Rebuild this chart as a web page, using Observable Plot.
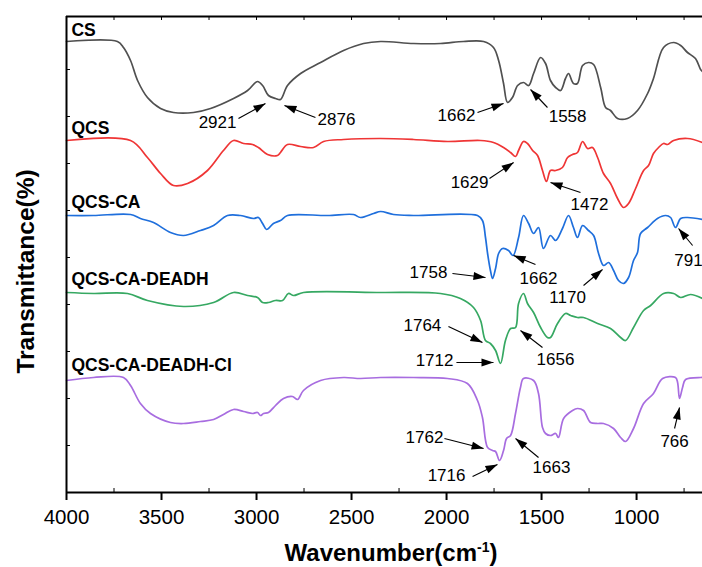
<!DOCTYPE html>
<html><head><meta charset="utf-8">
<script src="https://cdn.jsdelivr.net/npm/d3@7"></script>
<script src="https://cdn.jsdelivr.net/npm/@observablehq/plot@0.6"></script>
<style>
body{margin:0;background:#fff;font-family:"Liberation Sans",Arial,sans-serif;}
#wrap{position:relative;width:702px;height:567px;overflow:hidden;}
#xtitle{position:absolute;left:66px;top:539px;width:650px;text-align:center;font-size:24px;font-weight:bold;color:#000;line-height:normal;white-space:nowrap;}
#xtitle sup{font-size:14px;}
</style></head><body>
<div id="wrap"><div id="chart"></div><div id="xtitle">Wavenumber(cm<sup>-1</sup>)</div></div>
<script>
// ---------- data ----------
const seriesNames = ["CS", "QCS", "QCS-CA", "QCS-CA-DEADH", "QCS-CA-DEADH-Cl"];
const seriesColors = ["#505050", "#ef3535", "#1f6fdc", "#36a862", "#a86de0"];

const wnCS = [4000,3732,3700,3663,3626,3574,3505,3437,3332,3242,3121,3047,2995,2968,2937,2900,2874,2837,2768,2663,2542,2437,2347,2174,2032,1911,1805,1753,1726,1700,1679,1653,1626,1595,1568,1542,1505,1479,1453,1426,1400,1374,1358,1332,1311,1284,1253,1226,1189,1163,1137,1100,1048,995,942,911,858,805,768,732,690,663,653];
const tCS  = [451,451,445,432,412,395,384,380,380,384,394,402,411,407,397,394,393,407,419,430,442,449,451,449,449,451,451,445,432,409,390,395,407,410,407,419,435,429,412,405,402,414,419,409,409,427,430,428,405,385,382,374,374,382,399,414,445,450,447,440,434,423,421];

const wnQCS = [4000,3663,3574,3505,3437,3363,3258,3174,3121,3068,3021,2990,2942,2890,2874,2837,2768,2700,2647,2542,2347,2174,1995,1821,1753,1700,1663,1637,1621,1595,1574,1547,1521,1495,1474,1453,1426,1390,1363,1337,1311,1284,1258,1232,1205,1174,1137,1100,1069,1042,1005,963,937,911,884,858,837,805,732,653];
const tQCS  = [352,352,335,319,307,309,322,342,352,349,348,345,338,337,340,348,346,345,351,353,354,353,351,352,350,345,340,336,342,351,349,342,337,322,311,322,322,325,335,338,340,351,344,345,335,319,309,294,285,289,304,322,327,339,345,349,348,352,354,350];

const wnCA = [4000,3858,3663,3611,3542,3453,3384,3295,3226,3153,3084,3016,2990,2968,2947,2911,2874,2837,2626,2490,2453,2384,2347,2279,2174,1837,1811,1795,1784,1769,1758,1742,1726,1705,1674,1650,1621,1595,1568,1542,1516,1490,1453,1426,1390,1358,1332,1311,1284,1253,1226,1200,1174,1147,1121,1095,1069,1042,1016,995,979,942,890,847,821,795,768,732,653];
const tCA  = [277,277,278,274,270,260,257,262,267,277,277,274,275,269,263,269,272,277,277,278,275,279,281,278,277,277,272,255,239,222,214,224,239,244,242,237,255,277,269,259,265,244,257,252,264,277,265,255,267,262,257,239,227,230,222,212,209,215,232,240,259,265,274,277,275,265,274,275,273];

const wnDH = [4000,3858,3679,3574,3384,3226,3121,3047,2995,2968,2937,2900,2863,2832,2805,2753,2347,2032,1927,1858,1821,1795,1769,1742,1716,1690,1663,1637,1621,1595,1574,1542,1505,1469,1453,1416,1374,1347,1311,1279,1205,1137,1084,1058,1016,963,926,858,805,768,716,653];
const tDH  = [200,199,199,192,186,190,200,197,195,190,190,192,192,199,197,200,200,199,194,185,172,152,149,142,129,152,164,165,189,199,189,180,165,155,155,169,179,177,175,175,169,164,155,152,165,182,187,199,199,195,198,194];

const wnCl = [4000,3858,3700,3663,3611,3558,3453,3384,3295,3226,3174,3121,3068,3021,2995,2979,2963,2937,2900,2858,2811,2784,2753,2663,2542,2453,2347,2174,1995,1890,1837,1811,1784,1758,1742,1721,1700,1684,1663,1637,1611,1595,1542,1516,1495,1479,1453,1426,1411,1384,1337,1311,1279,1242,1205,1174,1121,1084,1058,1016,963,911,863,795,784,774,758,742,663,653];
const tCl  = [112,115,115,107,89,79,70,69,71,73,78,83,81,79,80,77,79,80,87,94,96,93,102,112,115,114,115,115,114,109,92,75,45,42,41,32,42,54,57,79,105,114,112,99,65,59,57,59,55,74,82,84,82,70,69,69,64,55,51,64,89,99,114,115,110,94,105,113,115,115];

const seriesWn = [wnCS, wnQCS, wnCA, wnDH, wnCl];
const seriesT  = [tCS, tQCS, tCA, tDH, tCl];

// series name labels (wavenumber, transmittance baseline)
const nameWn = [3974, 3974, 3974, 3974, 3974];
const nameT  = [457, 359, 285, 208, 122];

// peak annotations
const annLabel = ["2921","2876","1662","1558","1629","1472","791","1758","1662","1170","1764","1712","1656","1762","1716","1663","766"];
const annWn    = [3205,2579,1948,1363,1879,1248,727,2095,1516,1363,2127,2063,1427,2116,2000,1448,800];
const annT     = [370,373,377,376,310,288,232,220,214,195,167,132,133,55,17,25,51];
const arrWn1   = [3095,2690,1837,1469,1774,1295,705,1969,1532,1279,1990,1948,1495,2011,1863,1516,800];
const arrT1    = [374,375,380,385,314,300,247,219,228,207,166,130,145,54,16,35,64];
const arrWn2   = [2953,2853,1700,1558,1647,1453,779,1795,1647,1179,1811,1753,1611,1805,1732,1637,774];
const arrT2    = [389,387,389,403,330,310,264,215,237,223,150,130,162,44,28,54,85];

const xTicks = [4000,3500,3000,2500,2000,1500,1000];
const xMinor = [3750,3250,2750,2250,1750,1250,750];
const yMinor = [47,94,141,188,235,282,329,376,423];

// ---------- build ----------
const xDomain = [4000, 653], yDomain = [0, 476];
const W = 702, H = 540, mL = 66, mR = 0, mT = 16, mB = 48;
const xs = d3.scaleLinear(xDomain, [mL, W - mR]);
const ys = d3.scaleLinear(yDomain, [H - mB, mT]);

const rows = seriesNames.flatMap((s, i) => seriesWn[i].map((w, j) => ({series: s, w, t: seriesT[i][j]})));
const names = seriesNames.map((s, i) => ({s, w: nameWn[i], t: nameT[i]}));
const anns = annLabel.map((l, i) => {
  const dx = xs(arrWn2[i]) - xs(arrWn1[i]);
  const dy = ys(arrT2[i]) - ys(arrT1[i]);
  return {l, w: annWn[i], t: annT[i], x1: arrWn1[i], y1: arrT1[i], x2: arrWn2[i], y2: arrT2[i],
          angle: Math.atan2(dx, -dy) * 180 / Math.PI};
});
const headSymbol = {draw(ctx) { ctx.moveTo(0, 0); ctx.lineTo(-4, 12); ctx.lineTo(4, 12); ctx.closePath(); }};

const font = "Liberation Sans, Arial, sans-serif";
const chart = Plot.plot({
  width: W, height: H,
  marginLeft: mL, marginRight: mR, marginTop: mT, marginBottom: mB,
  style: {fontFamily: font, background: "white", color: "black", overflow: "visible"},
  x: {domain: xDomain},
  y: {domain: yDomain, axis: null},
  color: {domain: seriesNames, range: seriesColors},
  marks: [
    Plot.line(rows, {x: "w", y: "t", z: "series", stroke: "series", strokeWidth: 1.7, curve: "catmull-rom"}),
    Plot.ruleX([4000], {stroke: "black", strokeWidth: 2}),
    Plot.ruleY([0, 476], {stroke: "black", strokeWidth: 2}),
    Plot.ruleX(xMinor, {x: d => d, y1: 0, y2: 4, stroke: "black", strokeWidth: 1}),
    Plot.ruleX(xTicks.concat(xMinor), {x: d => d, y1: 476, y2: 472, stroke: "black", strokeWidth: 1}),
    Plot.ruleY(yMinor, {y: d => d, x1: 4000, x2: 3979, stroke: "black", strokeWidth: 1}),
    Plot.axisX({ticks: xTicks, tickSize: 8, tickPadding: 9, fontSize: 20.5, strokeWidth: 2, label: null, tickFormat: d => String(d)}),
    Plot.text(names, {x: "w", y: "t", text: "s", textAnchor: "start", lineAnchor: "bottom", fontSize: 17.5, fontWeight: "bold", fill: "black"}),
    Plot.text(anns, {x: "w", y: "t", text: "l", fontSize: 17, fill: "black"}),
    Plot.link(anns, {x1: "x1", y1: "y1", x2: "x2", y2: "y2", stroke: "black", strokeWidth: 1.1}),
    Plot.dot(anns, {x: "x2", y: "y2", rotate: "angle", symbol: headSymbol, fill: "black", stroke: "none", r: 4}),
    Plot.text(["Transmittance(%)"], {frameAnchor: "left", textAnchor: "middle", rotate: -90, dx: -40, dy: 17, fontSize: 24.5, fontWeight: "bold", fill: "black"})
  ]
});
document.getElementById("chart").appendChild(chart);
</script>
</body></html>
